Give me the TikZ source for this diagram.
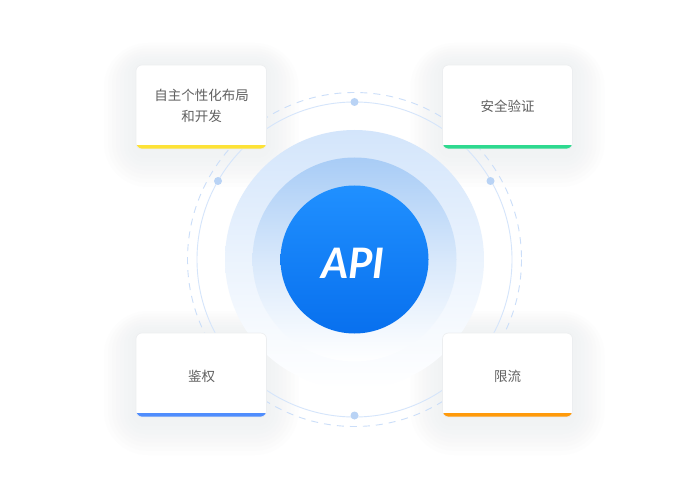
\documentclass[tikz,border=0pt]{standalone}
\usepackage{fontspec}
\setmainfont{Noto Sans CJK SC}
\newfontfamily\apifont{Lato}
\usetikzlibrary{calc}
\definecolor{ringline}{HTML}{D5E5FB}
\definecolor{ringdash}{HTML}{CBDEF9}
\definecolor{ringdot}{HTML}{B9D3F5}
\definecolor{outerglow}{HTML}{D3E5FB}
\definecolor{midglow}{HTML}{A8CCF6}
\definecolor{coretop}{HTML}{2090FF}
\definecolor{corebot}{HTML}{0870EE}
\definecolor{cardtext}{HTML}{606060}
\definecolor{cardedge}{HTML}{ECEEF0}
\definecolor{cardshadow}{HTML}{E9ECEF}
\definecolor{barY}{HTML}{FDE236}
\definecolor{barG}{HTML}{2ED98F}
\definecolor{barB}{HTML}{4F8DFD}
\definecolor{barO}{HTML}{FF9A0A}
\tikzset{
  cardtxt/.style={text=cardtext, font=\fontsize{13.5bp}{21bp}\selectfont, align=center},
  ringdot/.style={fill=ringdot, draw=none},
}
\newcommand{\mycardshadow}[4]{% x1 y1 x2 y2
  \foreach \k in {0,...,7}{
    \pgfmathsetmacro{\ex}{32-4*\k}
    \pgfmathsetmacro{\et}{22-2.8*\k}
    \pgfmathsetmacro{\eb}{38-4.2*\k}
    \pgfmathsetmacro{\rr}{44-4.5*\k}
    \fill[cardshadow, opacity=0.09, rounded corners=\rr bp] (#1-\ex,#2-\et) rectangle (#3+\ex,#4+\eb);
  }
}
\newcommand{\mycard}[5]{% x1 y1 x2 y2 color
  \begin{scope}
    \clip[rounded corners=6bp] (#1,#2) rectangle (#3,#4);
    \fill[white] (#1,#2) rectangle (#3,#4);
    \fill[#5] (#1,#4-4) rectangle (#3,#4);
  \end{scope}
  \draw[cardedge, line width=0.6bp, rounded corners=6bp] (#1,#2) rectangle (#3,#4);
}
\begin{document}
\begin{tikzpicture}[x=1bp,y=-1bp]
\useasboundingbox (0,0) rectangle (700,481);
\fill[white] (0,0) rectangle (700,481);
% card shadows
\mycardshadow{136}{65}{266.5}{149}
\mycardshadow{442.5}{65}{572.5}{149}
\mycardshadow{136}{333}{266.5}{417}
\mycardshadow{442.5}{333}{572.5}{417}
% rings
\coordinate (c) at (354.5,259.5);
\draw[ringdash, line width=0.9bp, dash pattern=on 7bp off 6bp] (c) circle[radius=167];
\draw[ringline, line width=0.9bp] (c) circle[radius=157.5];
\fill[ringdot] ($(c)+(0,-157.5)$) circle[radius=4];
\fill[ringdot] ($(c)+(0,156)$) circle[radius=4];
\fill[ringdot] (218,181) circle[radius=4];
\fill[ringdot] (490.5,181) circle[radius=4];
% glows
\shade[top color=outerglow, bottom color=white, middle color=outerglow!45] (c) circle[radius=129.5];
\shade[top color=midglow, bottom color=white, middle color=midglow!45!white] (c) circle[radius=102];
\shade[top color=coretop, bottom color=corebot] (c) circle[radius=74];
\node[text=white, font=\apifont\bfseries\itshape\fontsize{42bp}{42bp}\selectfont] (api) at (353,263) {API};
% cards
\mycard{136}{65}{266.5}{149}{barY}
\mycard{442.5}{65}{572.5}{149}{barG}
\mycard{136}{333}{266.5}{417}{barB}
\mycard{442.5}{333}{572.5}{417}{barO}
\node[cardtxt] (t1) at (201.5,106) {自主个性化布局\\和开发};
\node[cardtxt] (t2) at (507.5,106) {安全验证};
\node[cardtxt] (t3) at (201.5,376) {鉴权};
\node[cardtxt] (t4) at (507.5,376) {限流};
\end{tikzpicture}
\end{document}
